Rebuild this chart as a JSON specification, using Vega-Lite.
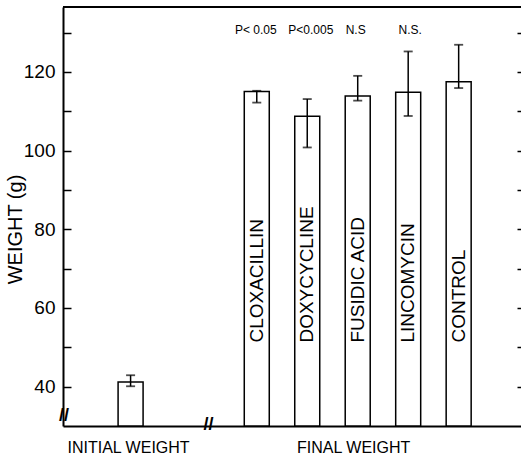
{
  "$schema": "https://vega.github.io/schema/vega-lite/v6.json",
  "width": 458,
  "height": 419,
  "autosize": "none",
  "padding": {"left": 63, "top": 7, "right": 0, "bottom": 32},
  "background": "white",
  "config": {
    "view": {"stroke": null},
    "font": "Liberation Sans",
    "axis": {"grid": false, "domainColor": "black", "tickColor": "black", "labelColor": "black", "titleColor": "black"}
  },
  "datasets": {
    "bars": [
      {"group": "INITIAL", "pos": 1, "mean": 41.2, "lo": 40.1, "hi": 42.9, "label": ""},
      {"group": "CLOXACILLIN", "pos": 3.5, "mean": 115.0, "lo": 112.2, "hi": 115.2, "label": "CLOXACILLIN"},
      {"group": "DOXYCYCLINE", "pos": 4.5, "mean": 108.7, "lo": 100.8, "hi": 113.1, "label": "DOXYCYCLINE"},
      {"group": "FUSIDIC ACID", "pos": 5.5, "mean": 113.9, "lo": 112.7, "hi": 119.0, "label": "FUSIDIC ACID"},
      {"group": "LINCOMYCIN", "pos": 6.5, "mean": 114.8, "lo": 108.8, "hi": 125.2, "label": "LINCOMYCIN"},
      {"group": "CONTROL", "pos": 7.5, "mean": 117.5, "lo": 115.9, "hi": 126.9, "label": "CONTROL"}
    ],
    "notes": [
      {"pos": 3.48, "y": 130.7, "text": "P< 0.05"},
      {"pos": 4.57, "y": 130.7, "text": "P<0.005"},
      {"pos": 5.46, "y": 130.7, "text": "N.S"},
      {"pos": 6.54, "y": 130.7, "text": "N.S."}
    ],
    "breaks": [
      {"pos": -0.32, "y": 32.6, "text": "//"},
      {"pos": 2.545, "y": 30.2, "text": "//"}
    ]
  },
  "resolve": {"axis": {"y": "independent"}},
  "layer": [
    {
      "data": {"name": "bars"},
      "mark": {"type": "bar", "width": 25, "fill": "white", "stroke": "black", "strokeWidth": 1.5},
      "encoding": {
        "x": {
          "field": "pos", "type": "quantitative",
          "scale": {"domain": [-0.24, 8.636], "nice": false, "zero": false},
          "axis": {
            "orient": "bottom", "title": null, "values": [0.95, 5.41],
            "labelExpr": "datum.value < 3 ? 'INITIAL WEIGHT' : 'FINAL WEIGHT'",
            "ticks": false, "domainWidth": 2, "labelFontSize": 16, "labelPadding": 13,
            "labelFlush": false, "labelOverlap": false
          }
        },
        "y": {
          "field": "mean", "type": "quantitative",
          "scale": {"domain": [30, 136.5], "nice": false, "zero": false},
          "axis": {
            "orient": "left", "title": "WEIGHT (g)",
            "values": [40, 50, 60, 70, 80, 90, 100, 110, 120, 130],
            "labelExpr": "datum.value % 20 == 0 ? datum.label : ''",
            "tickSize": -8, "tickWidth": 1.5, "domainWidth": 2,
            "labelFontSize": 19, "labelPadding": 16,
            "titleFontSize": 20, "titleFontWeight": "normal",
            "titleX": -48, "titleY": 222, "titleAlign": "center", "titleBaseline": "middle", "titleAngle": 270
          }
        },
        "y2": {"datum": 30}
      }
    },
    {
      "data": {"name": "bars"},
      "mark": {"type": "errorbar", "color": "black", "ticks": {"size": 9, "thickness": 1.8}, "rule": {"strokeWidth": 1.5}},
      "encoding": {
        "x": {"field": "pos", "type": "quantitative"},
        "y": {"field": "lo", "type": "quantitative", "axis": null},
        "y2": {"field": "hi"}
      }
    },
    {
      "data": {"name": "bars"},
      "transform": [{"filter": "datum.label != ''"}],
      "mark": {"type": "text", "angle": 270, "align": "left", "baseline": "middle", "fontSize": 19, "color": "black"},
      "encoding": {
        "x": {"field": "pos", "type": "quantitative"},
        "y": {"datum": 51.2, "type": "quantitative", "axis": null},
        "text": {"field": "label"}
      }
    },
    {
      "data": {"name": "notes"},
      "mark": {"type": "text", "align": "center", "baseline": "middle", "fontSize": 12, "color": "black"},
      "encoding": {
        "x": {"field": "pos", "type": "quantitative"},
        "y": {
          "field": "y", "type": "quantitative",
          "axis": {"orient": "right", "title": null, "labels": false, "domain": false,
                   "values": [40, 50, 60, 70, 80, 90, 100, 110, 120, 130], "tickSize": -4, "tickWidth": 1.5}
        },
        "text": {"field": "text"}
      }
    },
    {
      "data": {"name": "breaks"},
      "mark": {"type": "text", "align": "center", "baseline": "middle", "fontSize": 18, "fontWeight": "bold", "color": "black"},
      "encoding": {
        "x": {"field": "pos", "type": "quantitative"},
        "y": {"field": "y", "type": "quantitative", "axis": null},
        "text": {"field": "text"}
      }
    },
    {
      "data": {"values": [{}]},
      "mark": {"type": "rule", "strokeWidth": 2, "color": "black"},
      "encoding": {"y": {"datum": 136.5, "type": "quantitative", "axis": null}}
    }
  ]
}
